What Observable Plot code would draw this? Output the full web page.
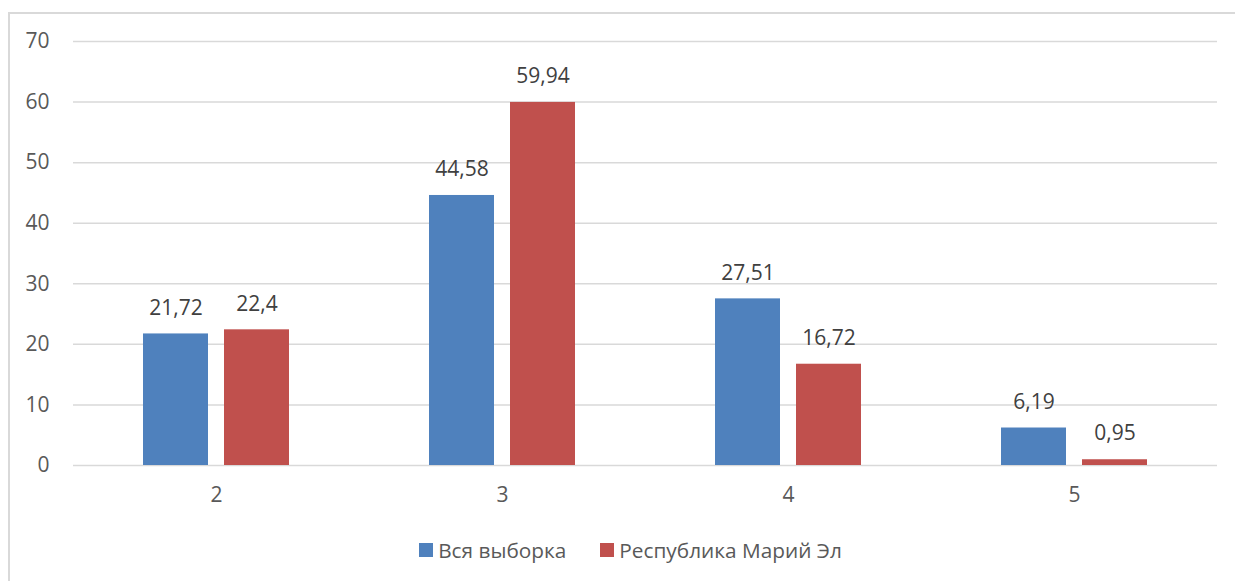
<!DOCTYPE html>
<html><head><meta charset="utf-8">
<script src="https://cdn.jsdelivr.net/npm/d3@7"></script>
<script src="https://cdn.jsdelivr.net/npm/@observablehq/plot@0.6"></script>
<style>
body{margin:0;background:#fff;font-family:"Open Sans",sans-serif;}
#wrap{position:relative;width:1235px;height:581px;overflow:hidden;}
#border{position:absolute;left:8px;top:12px;width:1240px;height:600px;border:2px solid #d9d9d9;box-sizing:border-box;}
#chart{position:absolute;left:0;top:0;}
#legend{position:absolute;left:13px;top:536px;width:1235px;display:flex;justify-content:center;font-size:20.8px;color:#595959;}
.item{display:flex;align-items:center;margin:0 17px;}
.sw{width:14px;height:14px;margin-right:5px;}
</style></head>
<body><div id="wrap"><div id="border"></div><div id="chart"></div><div id="legend"></div></div>
<script>
const categories = ["2","3","4","5"];
const seriesNames = ["Вся выборка","Республика Марий Эл"];
const seriesAll = [21.72, 44.58, 27.51, 6.19];
const seriesMariEl = [22.4, 59.94, 16.72, 0.95];
const yTicks = [0,10,20,30,40,50,60,70];
const colors = ["#4F81BD","#C0504D"];

const data = [];
categories.forEach((c,i)=>{
  data.push({cat:c, series:seriesNames[0], value:seriesAll[i]});
  data.push({cat:c, series:seriesNames[1], value:seriesMariEl[i]});
});
const fmt = v => String(v).replace(".", ",");

const chart = Plot.plot({
  width:1235, height:515,
  marginLeft:72, marginRight:18, marginTop:41, marginBottom:50,
  style:{fontFamily:"Open Sans, sans-serif", fontSize:"21px", color:"#595959", background:"transparent"},
  fx:{domain:categories, padding:0, label:null},
  x:{domain:seriesNames, paddingInner:0.196, paddingOuter:0.854, axis:null},
  y:{domain:[0,70], label:null},
  color:{domain:seriesNames, range:colors},
  marks:[
    Plot.ruleY(yTicks, {stroke:"#d9d9d9", strokeWidth:1.5}),
    Plot.axisY(yTicks, {tickSize:0, tickPadding:24, fontSize:21, fill:"#595959", label:null}),
    Plot.axisFx({anchor:"bottom", tickSize:0, tickPadding:22, fontSize:21, fill:"#595959", label:null}),
    Plot.barY(data, {fx:"cat", x:"series", y:"value", fill:"series"}),
    Plot.text(data, {fx:"cat", x:"series", y:"value", text:d=>fmt(d.value), dy:-26, fill:"#404040", fontSize:21})
  ]
});
document.getElementById("chart").append(chart);

const leg = document.getElementById("legend");
seriesNames.forEach((s,i)=>{
  const it = document.createElement("div"); it.className="item";
  const sw = document.createElement("div"); sw.className="sw"; sw.style.background=colors[i];
  const t = document.createElement("span"); t.textContent=s;
  it.append(sw,t); leg.append(it);
});
</script></body></html>
